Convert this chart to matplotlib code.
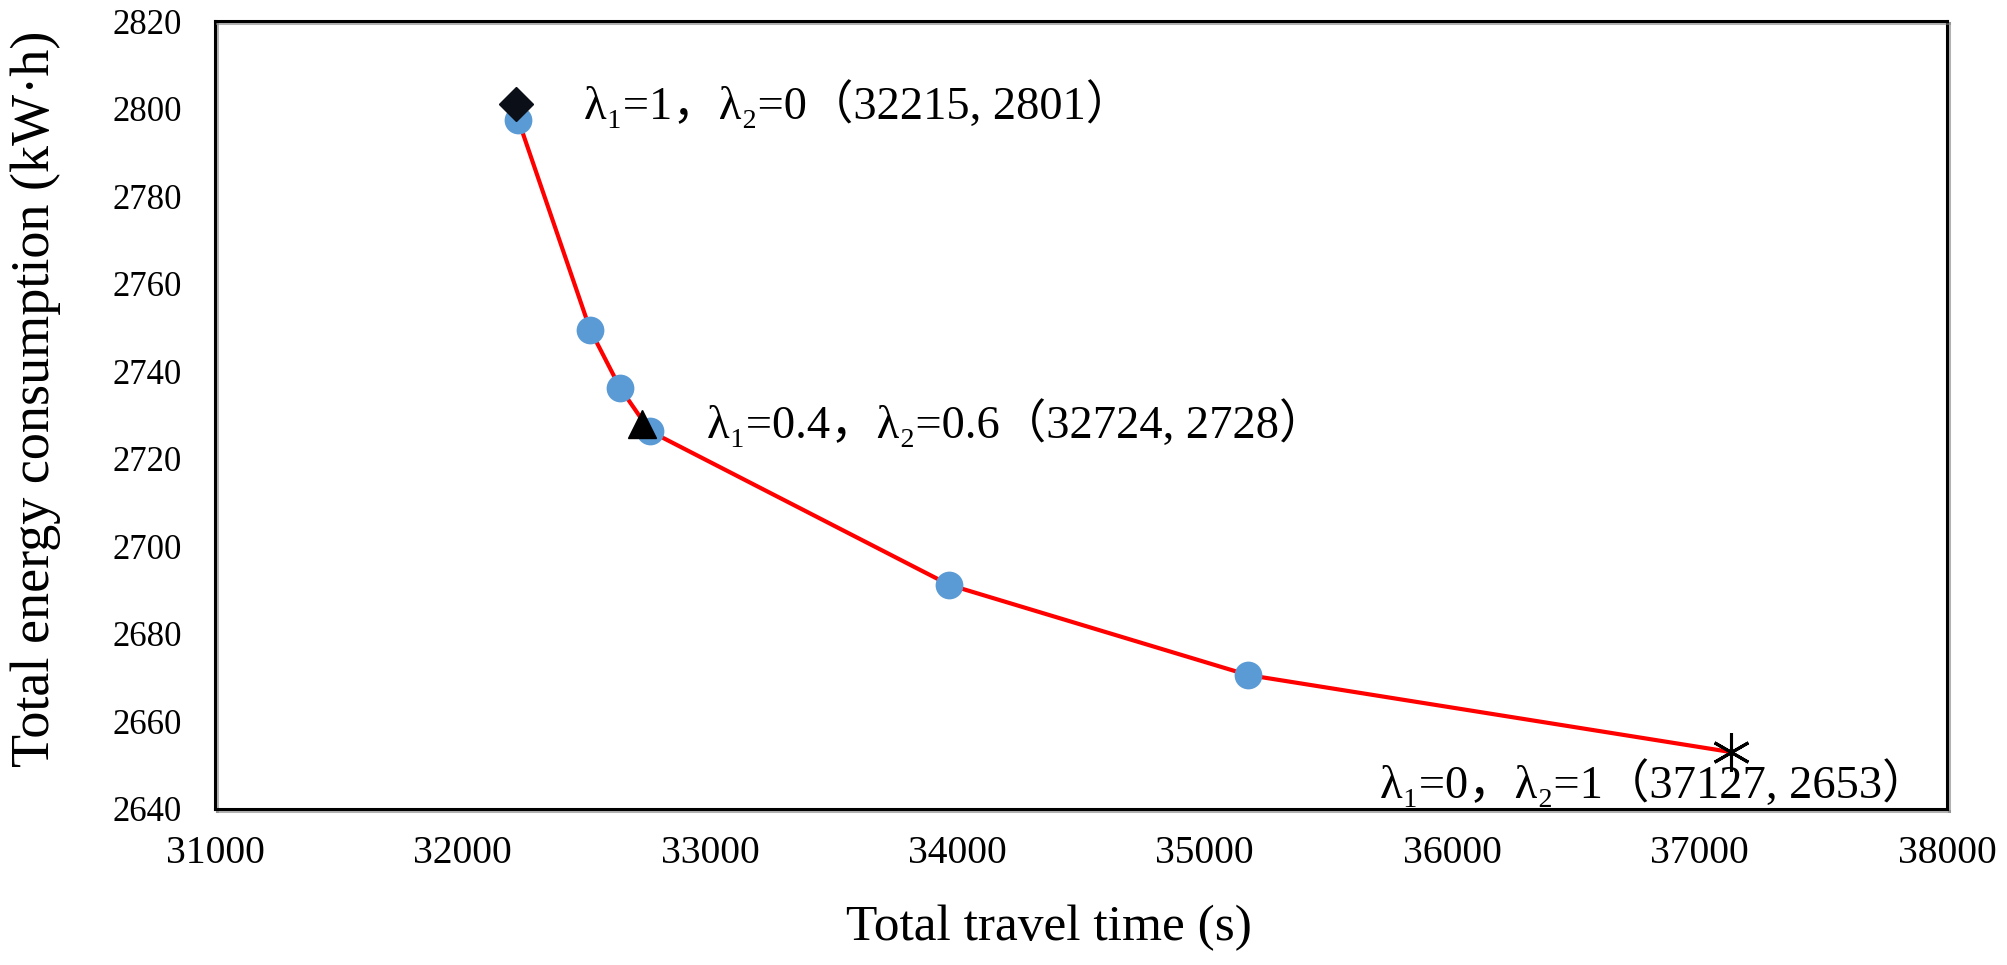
import numpy as np
import matplotlib
matplotlib.use('Agg')
import matplotlib.pyplot as plt
import matplotlib.patheffects as pe

plt.rcParams['font.family'] = ['Liberation Serif', 'Noto Sans CJK SC', 'DejaVu Serif']

# pareto front (blue points + red line)
travel_time = [32225, 32516, 32637, 32758, 33967, 35175, 37127]
energy      = [2797.5, 2749.5, 2736.2, 2726.3, 2691.2, 2670.6, 2653]

# highlighted solutions
special_x     = [32215, 32724, 37127]
special_y     = [2801, 2728, 2653]
special_text  = ['λ₁=1，λ₂=0（32215, 2801）',
                 'λ₁=0.4，λ₂=0.6（32724, 2728）',
                 'λ₁=0，λ₂=1（37127, 2653）']
text_x        = [32490, 32990, 35709]
text_y        = [2801, 2728, 2645.7]

xticks = np.arange(31000, 38001, 1000)
yticks = np.arange(2640, 2821, 20)

fig = plt.figure(figsize=(20.08, 9.65), dpi=100)
ax = fig.add_axes([0.1071, 0.1617, 0.8625, 0.8165])

ax.plot(travel_time, energy, color='#ff0000', lw=3, zorder=2)
ax.plot(travel_time[:-1], energy[:-1], 'o', color='#5b9bd5', ms=20, mec='none', zorder=3)

ax.plot(special_x[0], special_y[0], 'D', color='#0a0f18', ms=17, zorder=4)
ax.plot(special_x[1], special_y[1], '^', color='black', ms=20, zorder=4)
ax.plot(special_x[2], special_y[2], marker=(6, 2, 0), color='black', ms=28, mew=2.2, zorder=4, ls='none')

for tx, ty, s in zip(text_x, text_y, special_text):
    ax.text(tx, ty, s, fontsize=33.5, ha='left', va='center')

ax.set_xlim(31000, 38000)
ax.set_ylim(2640, 2820)
ax.set_xticks(xticks)
ax.set_yticks(yticks)
ax.tick_params(axis='both', length=0)
ax.tick_params(axis='x', pad=19, labelsize=28.5)
ax.tick_params(axis='y', pad=24, labelsize=25)

ax.set_xlabel('Total travel time (s)', fontsize=37, va='center')
ax.set_ylabel('Total energy consumption (kW·h)', fontsize=39, va='center')
ax.xaxis.set_label_coords(0.4815, -0.151)
ax.yaxis.set_label_coords(-0.1033, 0.52)

for sp in ax.spines.values():
    sp.set_linewidth(2.2)
    sp.set_color('black')
    sp.set_path_effects([pe.SimpleLineShadow(offset=(1.5, -1.5), shadow_color='gray', alpha=0.6), pe.Normal()])

fig.savefig('out.png', dpi=100)
